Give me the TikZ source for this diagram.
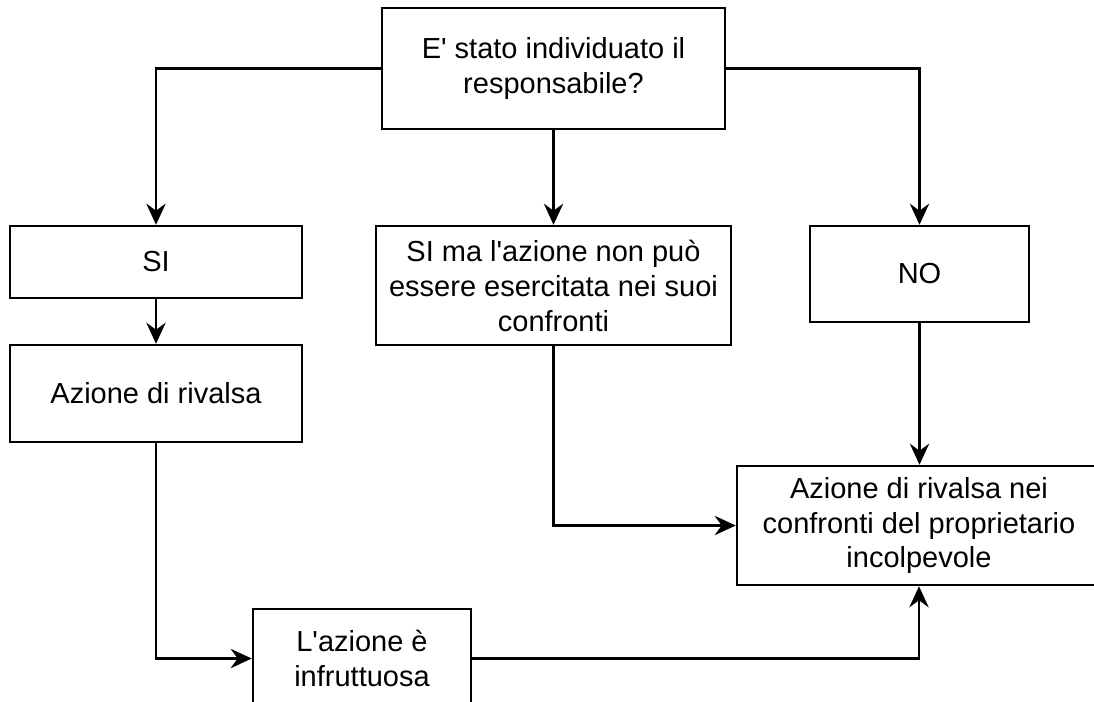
\documentclass[tikz,border=0pt]{standalone}
\usepackage{fontspec}
\newfontfamily\boxfont{Liberation Sans}
\usepackage{xcolor}
\usetikzlibrary{arrows.meta}

\begin{document}
\begin{tikzpicture}[line width=1.4pt,
  box/.style={draw, align=center, inner sep=0pt,
    font=\boxfont\fontsize{16.5}{19.9}\selectfont},
  arr/.style={draw, line width=1.4pt, -{Stealth[length=12pt, width=11pt, inset=4pt]}}
]
\useasboundingbox (0,0) rectangle (21.88,-14.02);
\node[box, minimum width=6.86cm, minimum height=2.42cm] (q) at (11.07,-1.37) {E' stato individuato il\\responsabile?};
\node[box, minimum width=5.84cm, minimum height=1.44cm] (si) at (3.12,-5.24) {SI};
\node[box, minimum width=7.1cm, minimum height=2.38cm] (sima) at (11.07,-5.71) {SI ma l'azione non può\\essere esercitata nei suoi\\confronti};
\node[box, minimum width=4.38cm, minimum height=1.92cm] (no) at (18.39,-5.48) {NO};
\node[box, minimum width=5.84cm, minimum height=1.94cm] (riv) at (3.12,-7.87) {Azione di rivalsa};
\node[box, minimum width=7.28cm, minimum height=2.38cm] (inc) at (18.38,-10.51) {Azione di rivalsa nei\\confronti del proprietario\\incolpevole};
\node[box, minimum width=4.36cm, minimum height=1.98cm] (inf) at (7.24,-13.17) {L'azione è\\infruttuosa};
\draw[arr] (q.west) -| (si.north);
\draw[arr] (q.east) -| (no.north);
\draw[arr] (q.south) -- (sima.north);
\draw[arr] (si.south) -- (riv.north);
\draw[arr] (riv.south) |- (inf.west);
\draw[arr] (inf.east) -| (inc.south);
\draw[arr] (sima.south) |- (inc.west);
\draw[arr] (no.south) -- (no.south |- inc.north);
\end{tikzpicture}
\end{document}
